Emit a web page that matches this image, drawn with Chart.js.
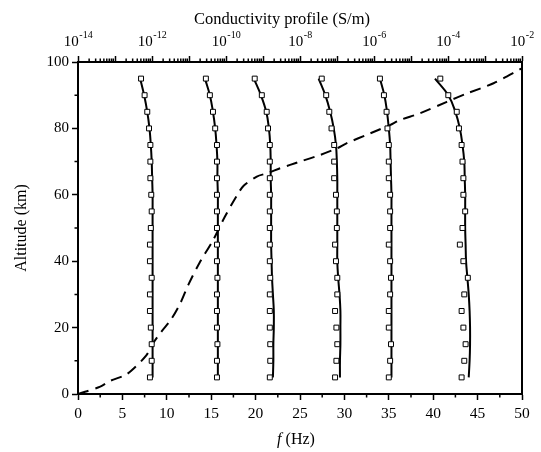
<!DOCTYPE html>
<html><head><meta charset="utf-8">
<script src="https://cdn.jsdelivr.net/npm/chart.js@4.4.0/dist/chart.umd.min.js"></script>
<style>html,body{margin:0;padding:0;background:#fff}canvas{display:block}</style>
</head><body>
<canvas id="c" width="541" height="452"></canvas>
<script>
// ---- data ----
const altitudeKm = [95,90,85,80,75,70,65,60,55,50,45,40,35,30,25,20,15,10,5];

// measured resonance frequencies (squares), Hz
const measured1 = [7.1,7.5,7.8,8.0,8.15,8.15,8.15,8.25,8.3,8.2,8.1,8.1,8.3,8.1,8.1,8.2,8.3,8.3,8.1];
const measured2 = [14.4,14.85,15.2,15.45,15.65,15.65,15.65,15.65,15.65,15.65,15.65,15.65,15.7,15.65,15.65,15.65,15.7,15.65,15.65];
const measured3 = [19.9,20.7,21.25,21.4,21.6,21.6,21.6,21.6,21.6,21.6,21.6,21.6,21.65,21.6,21.6,21.6,21.65,21.65,21.6];
const measured4 = [27.45,27.95,28.3,28.55,28.85,28.85,28.85,29.05,29.15,29.15,28.95,29.05,29.2,29.2,28.95,29.1,29.2,29.1,28.95];
const measured5 = [34.0,34.45,34.75,34.85,35.0,35.0,35.0,35.15,35.15,35.15,35.0,35.15,35.25,35.15,35.0,35.0,35.25,35.15,35.0];
const measured6 = [40.8,41.7,42.65,42.9,43.2,43.3,43.4,43.4,43.6,43.3,43.0,43.4,43.9,43.5,43.2,43.4,43.65,43.5,43.2];

// model curves (solid lines), Hz
const model1 = [7.0,7.45,7.8,8.05,8.2,8.3,8.35,8.4,8.4,8.4,8.4,8.4,8.4,8.4,8.4,8.4,8.4,8.4,8.4];
const model2 = [14.3,14.85,15.2,15.45,15.6,15.7,15.7,15.75,15.75,15.75,15.75,15.75,15.75,15.75,15.75,15.75,15.75,15.75,15.75];
const model3 = [19.8,20.6,21.2,21.5,21.65,21.7,21.7,21.75,21.75,21.75,21.75,21.8,21.85,21.95,22.05,22.05,22.0,22.0,21.95];
const model4 = [27.1,27.85,28.4,28.8,29.05,29.15,29.2,29.2,29.2,29.2,29.2,29.2,29.3,29.45,29.55,29.55,29.55,29.5,29.5];
const model5 = [34.0,34.5,34.8,35.0,35.15,35.2,35.25,35.3,35.3,35.3,35.3,35.3,35.3,35.3,35.3,35.3,35.3,35.3,35.3];
const model6 = [40.2,41.7,42.5,43.0,43.3,43.5,43.55,43.6,43.6,43.6,43.65,43.7,43.85,44.0,44.1,44.15,44.15,44.1,44.0];

// conductivity profile (dashed), altitude km vs S/m
const condAltKm = [0,2.2,3.9,5.7,7.7,11.7,14.8,18.8,22.3,27.3,32.8,39.4,46.4,53.4,59.9,62.7,65.5,66.5,68,69,70,72,74,75.5,78.5,81,82.5,84.5,88,90.5,93.6,98];
const condSigma = [1.0e-14,4.0e-14,7.2e-14,1.9e-13,3.2e-13,7.1e-13,1.0e-12,1.8e-12,3.2e-12,5.8e-12,9.5e-12,1.9e-11,4.5e-11,9.3e-11,2.0e-10,3.0e-10,6.8e-10,1.3e-9,2.9e-9,5.4e-9,1.0e-8,3.5e-8,1.0e-7,1.8e-7,7.9e-7,2.7e-6,5.0e-6,1.7e-5,9.3e-5,3.2e-4,1.7e-3,9.5e-3];

// tick labels
const freqTicks = [0,5,10,15,20,25,30,35,40,45,50];
const altTicks = [0,20,40,60,80,100];
const condExponents = [-14,-12,-10,-8,-6,-4,-2];

const measuredSets = [measured1,measured2,measured3,measured4,measured5,measured6];
const modelSets = [model1,model2,model3,model4,model5,model6];

const FONT = "'Liberation Serif','Times New Roman',serif";
function isDecade(v){ if(!(v>0)) return false; const l=Math.log10(v); return Math.abs(l-Math.round(l))<1e-6; }

const datasets = [];
modelSets.forEach(m => datasets.push({
  data: altitudeKm.map((a,j)=>({x:m[j], y:a})),
  showLine:true, borderColor:'#000', borderWidth:2, pointRadius:0, tension:0.4,
  xAxisID:'x', yAxisID:'y', order:2
}));
measuredSets.forEach(m => datasets.push({
  data: altitudeKm.map((a,j)=>({x:m[j], y:a})),
  showLine:false, pointStyle:'rect', pointRadius:3.5, backgroundColor:'#fff',
  borderColor:'#000', borderWidth:1, xAxisID:'x', yAxisID:'y', order:1
}));
datasets.push({
  data: condAltKm.map((a,j)=>({x:condSigma[j], y:a})),
  showLine:true, borderColor:'#000', borderWidth:2, borderDash:[11,7], pointRadius:0, tension:0.3,
  xAxisID:'x2', yAxisID:'y', order:3
});

const extras = {
  id:'extras',
  afterDraw(chart){
    const ctx = chart.ctx, ca = chart.chartArea;
    const sx = chart.scales.x, sy = chart.scales.y, st = chart.scales.x2;
    ctx.save();
    ctx.strokeStyle = '#000'; ctx.lineWidth = 1.5;
    ctx.beginPath();
    for (let v=2.5; v<50; v+=5){ const p=sx.getPixelForValue(v); ctx.moveTo(p,ca.bottom); ctx.lineTo(p,ca.bottom+3.5); }
    for (let v=10; v<100; v+=20){ const p=sy.getPixelForValue(v); ctx.moveTo(ca.left-3.5,p); ctx.lineTo(ca.left,p); }
    st.ticks.forEach(t=>{ if(!isDecade(t.value)){ const p=st.getPixelForValue(t.value); ctx.moveTo(p,ca.top); ctx.lineTo(p,ca.top-3.5); } });
    ctx.stroke();
    ctx.lineWidth = 2;
    ctx.beginPath(); ctx.moveTo(ca.right,ca.top-1); ctx.lineTo(ca.right,ca.bottom+1); ctx.stroke();

    ctx.fillStyle = '#000';
    // top axis labels: 10 with superscript exponent
    ctx.textBaseline = 'alphabetic'; ctx.textAlign = 'left';
    const fb = '15px ' + FONT, fe = '10px ' + FONT;
    condExponents.forEach(e=>{
      const px = st.getPixelForValue(Math.pow(10,e));
      const es = '-' + String(Math.abs(e));
      ctx.font = fb; const wb = ctx.measureText('10').width;
      ctx.font = fe; const we = ctx.measureText(es).width;
      const x0 = px - (wb+we)/2;
      ctx.font = fb; ctx.fillText('10', x0, 46);
      ctx.font = fe; ctx.fillText(es, x0+wb+0.5, 38);
    });
    // top axis title
    ctx.textAlign = 'center'; ctx.textBaseline = 'middle';
    ctx.font = '16.5px ' + FONT;
    ctx.fillText('Conductivity profile (S/m)', 282, 20);
    // bottom axis title with italic f
    const f1 = 'italic 16px ' + FONT, f2 = '16px ' + FONT;
    ctx.font = f1; const w1 = ctx.measureText('f').width;
    ctx.font = f2; const w2 = ctx.measureText(' (Hz)').width;
    const cx = 296, y = 440;
    const x0 = cx - (w1+w2)/2;
    ctx.textAlign = 'left';
    ctx.font = f1; ctx.fillText('f', x0, y);
    ctx.font = f2; ctx.fillText(' (Hz)', x0+w1, y);
    ctx.restore();
  }
};

new Chart(document.getElementById('c'), {
  type:'scatter',
  data:{ datasets },
  options:{
    responsive:false, animation:false,
    layout:{ padding:{ left:0, right:19, top:0, bottom:0 } },
    plugins:{ legend:{display:false}, tooltip:{enabled:false} },
    scales:{
      x:{
        type:'linear', position:'bottom', min:0, max:50,
        afterBuildTicks: s => { s.ticks = freqTicks.map(v=>({value:v})); },
        ticks:{ font:{family:FONT,size:15.5}, color:'#000', padding:5, maxRotation:0, autoSkip:false },
        grid:{ drawOnChartArea:false, color:'#000', tickLength:6, tickWidth:1.5 },
        border:{ color:'#000', width:2 },
        afterFit: s => { s.height = 58; }
      },
      x2:{
        type:'logarithmic', position:'top', min:1e-14, max:1e-2,
        afterBuildTicks: s => {
          const t=[];
          for (let e=-14; e<=-2; e++){ for (let k=1;k<=9;k++){ if(e===-2 && k>1) break; t.push({value:k*Math.pow(10,e)}); } }
          s.ticks = t;
        },
        ticks:{ autoSkip:false, maxRotation:0, font:{family:FONT,size:15}, color:'#000', padding:4,
          callback:()=>'' },
        grid:{ drawOnChartArea:false, tickLength:6, tickWidth:1.5,
          tickColor: c => (c.tick && isDecade(c.tick.value)) ? '#000' : 'rgba(0,0,0,0)' },
        border:{ color:'#000', width:2 },
        afterFit: s => { s.height = 62; }
      },
      y:{
        type:'linear', position:'left', min:0, max:100,
        afterBuildTicks: s => { s.ticks = altTicks.map(v=>({value:v})); },
        ticks:{ font:{family:FONT,size:15}, color:'#000', padding:3 },
        grid:{ drawOnChartArea:false, color:'#000', tickLength:6, tickWidth:1.5 },
        border:{ color:'#000', width:2 },
        title:{ display:true, text:'Altitude (km)', font:{family:FONT,size:16}, color:'#000', padding:{top:12,bottom:0} },
        afterFit: s => { s.width = 78; }
      }
    }
  },
  plugins:[extras]
});
</script>
</body></html>
